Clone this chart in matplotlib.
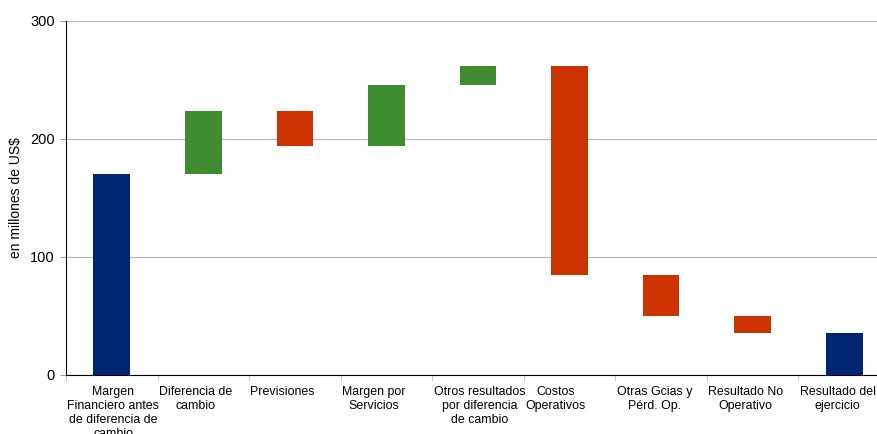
import numpy as np
import matplotlib.pyplot as plt
from matplotlib.ticker import FixedLocator

plt.rcParams['font.family'] = ['Liberation Sans', 'DejaVu Sans']

categories = [
    'Margen\nFinanciero antes\nde diferencia de\ncambio',
    'Diferencia de\ncambio',
    'Previsiones',
    'Margen por\nServicios',
    'Otros resultados\npor diferencia\nde cambio',
    'Costos\nOperativos',
    'Otras Gcias y\nPérd. Op.',
    'Resultado No\nOperativo',
    'Resultado del\nejercicio',
]
# bottom and top of each floating bar (millones de US$)
bar_low = [0, 170, 194, 194, 246, 85, 50, 35.5, 0]
bar_high = [170, 224, 224, 246, 262, 262, 85, 50, 35.5]
kind = ['total', 'up', 'down', 'up', 'up', 'down', 'down', 'down', 'total']

colors = {'total': '#002673', 'up': '#3f8b30', 'down': '#cc3300'}

fig = plt.figure(figsize=(8.77, 4.34), dpi=100)
ax = fig.add_axes([66 / 877, 1 - 375 / 434, 824 / 877, 354 / 434])

x = np.arange(len(categories))
heights = np.array(bar_high) - np.array(bar_low)
ax.bar(x, heights, bottom=bar_low, width=0.4,
       color=[colors[k] for k in kind], zorder=3)

ax.set_xlim(-0.5, len(categories) - 0.5)
ax.set_ylim(0, 300)
ax.set_yticks([0, 100, 200, 300])
ax.yaxis.grid(True, color='#aeb5cb', linewidth=0.8, zorder=0)

# category labels: block starts at the left tick, lines centred inside it
ax.set_xticks(x)
ax.set_xticklabels([])
for i, lab in enumerate(categories):
    ax.annotate(lab, xy=(i - 0.5, 0), xycoords=('data', 'axes fraction'),
                xytext=(1, -8), textcoords='offset points',
                ha='left', va='top', multialignment='center',
                fontsize=8.9, linespacing=1.22, annotation_clip=False)
ax.xaxis.set_minor_locator(FixedLocator(np.arange(len(categories) + 1) - 0.5))
ax.tick_params(axis='x', which='major', length=0)
ax.tick_params(axis='x', which='minor', length=4, color='#c0c0c0')
ax.tick_params(axis='y', length=4, color='#a0a0a0', labelsize=10.5, pad=4)

ax.set_ylabel('en millones de US$', fontsize=10)
ax.yaxis.set_label_coords(-0.052, 0.5)

for side in ['top', 'right']:
    ax.spines[side].set_visible(False)
ax.spines['left'].set_color('black')
ax.spines['bottom'].set_color('black')

fig.savefig('out.png', dpi=100)
